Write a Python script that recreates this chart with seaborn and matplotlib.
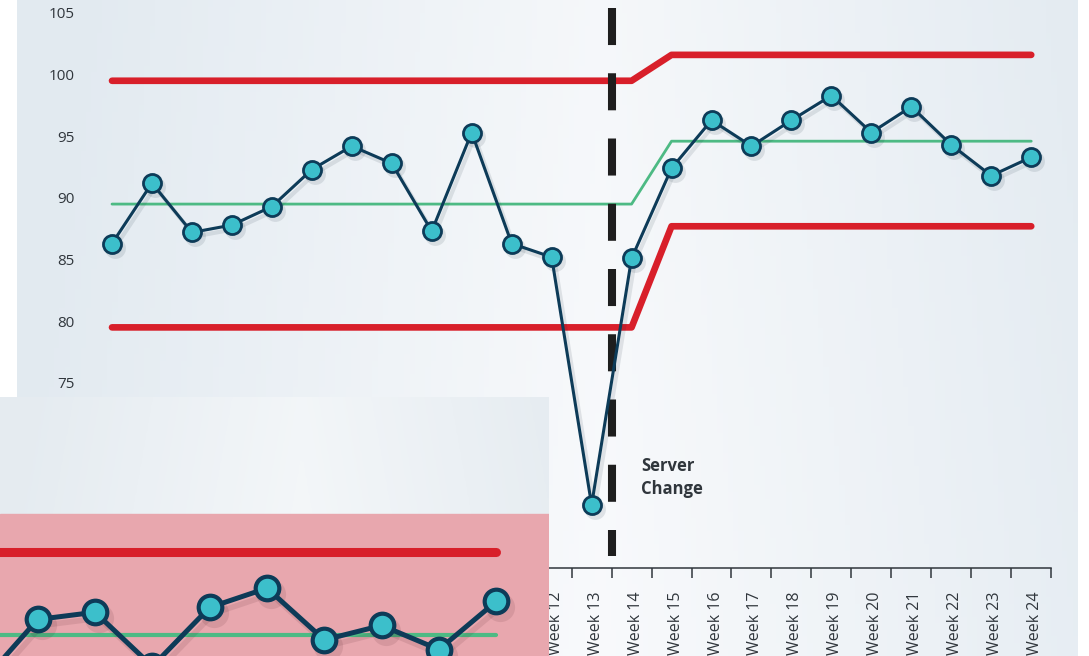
import numpy as np
import seaborn as sns
import matplotlib.pyplot as plt
from matplotlib.transforms import ScaledTranslation

# weekly values
weeks = list(range(1, 25))
week_labels = ["Week %d" % w for w in weeks]
values = [86.3, 91.2, 87.2, 87.8, 89.3, 92.3, 94.2, 92.8, 87.3, 95.3, 86.3, 85.2,
          65.1, 85.1, 92.4, 96.3, 94.2, 96.3, 98.3, 95.3, 97.4, 94.3, 91.8, 93.3]
ucl = [99.5] * 14 + [101.6] * 10
center = [89.5] * 14 + [94.6] * 10
lcl = [79.5] * 14 + [87.7] * 10
change_at = 13.5
yticks = [60, 65, 70, 75, 80, 85, 90, 95, 100, 105]

# zoomed-in detail panel (bottom left)
inset_pos = [-1, 0, 1, 2, 3, 4, 5, 6, 7, 8]
inset_values = [90.5, 95.9, 96.5, 92.0, 96.9, 98.5, 94.2, 95.4, 93.4, 97.4]
inset_ucl = 101.5
inset_center = 94.6
inset_band_top = 104.7

RED = "#d81f2a"
GREEN = "#4dba84"
NAVY = "#0d3b58"
TEAL = "#3cbfcb"
TXT = "#30363c"

sns.set_theme(style="white")
plt.rcParams["font.family"] = ["Open Sans", "DejaVu Sans"]

fig = plt.figure(figsize=(10.89, 6.56), dpi=100)
fig.patch.set_facecolor("white")


def gradient(ax, c_edge, c_mid):
    x = np.linspace(0, 1, 200)
    y = np.linspace(0, 1, 100)
    X, Y = np.meshgrid(x, y)
    t = np.clip(np.abs(X - 0.55) * 1.8 + (1 - Y) * 0.15, 0, 1)[..., None]
    img = np.array(c_mid)[None, None, :] * (1 - t) + np.array(c_edge)[None, None, :] * t
    ax.imshow(img, extent=(*ax.get_xlim(), *ax.get_ylim()), aspect="auto",
              zorder=0, origin="upper")


def shadow(ax, px, py):
    return ax.transData + ScaledTranslation(px / 100, -py / 100, fig.dpi_scale_trans)


# ---- main chart ----
ax = fig.add_axes([17 / 1089, 0, 1061 / 1089, 1])
ax.set_xlim(-1.377, 25.17)
ax.set_ylim(52.85, 106.05)
gradient(ax, (0.89, 0.92, 0.945), (0.975, 0.98, 0.988))

sns.lineplot(x=weeks, y=ucl, ax=ax, color=RED, lw=4.8, solid_capstyle="round", zorder=3)
sns.lineplot(x=weeks, y=lcl, ax=ax, color=RED, lw=4.8, solid_capstyle="round", zorder=3)
sns.lineplot(x=weeks, y=center, ax=ax, color=GREEN, lw=2, zorder=3)
ax.plot([change_at, change_at], [105.4, 61.0], color="#1e1e1e", lw=5.8,
        dashes=(4.6, 3.5), solid_capstyle="butt", zorder=4)
# soft drop shadow under the series
ax.plot(weeks, values, color="#0b2030", alpha=0.10, lw=3, marker="o", ms=15,
        mec="none", transform=shadow(ax, 3, 4), zorder=5)
sns.lineplot(x=weeks, y=values, ax=ax, color=NAVY, lw=2.2, marker="o",
             markersize=13, markerfacecolor=TEAL, markeredgecolor=NAVY,
             markeredgewidth=2, zorder=6)

ax.text(14.24, 67.3, "Server\nChange", fontsize=12, fontweight="bold",
        color=TXT, va="center", ha="left", linespacing=1.35)

for s in ["top", "right", "left"]:
    ax.spines[s].set_visible(False)
ax.spines["left"].set_position(("data", 0.2))
ax.spines["bottom"].set_position(("data", 60))
ax.spines["bottom"].set_bounds(0.5, 24.5)
ax.spines["bottom"].set_color(TXT)
ax.spines["bottom"].set_linewidth(1.1)

ax.set_yticks(yticks)
ax.set_yticklabels([str(t) for t in yticks])
ax.tick_params(axis="y", length=0, pad=4, labelsize=11, labelcolor=TXT)

ax.set_xticks([w + 0.5 for w in [0] + weeks])
ax.set_xticklabels([])
ax.set_xticks(weeks, minor=True)
ax.set_xticklabels(week_labels, minor=True, rotation=90)
ax.tick_params(axis="x", which="major", direction="out", length=7, width=1.1,
               color=TXT, bottom=True)
ax.tick_params(axis="x", which="minor", length=0, pad=17, labelsize=11.5,
               labelcolor=TXT, bottom=True)
for lbl in ax.get_xticklabels(minor=True):
    lbl.set_transform(lbl.get_transform() + ScaledTranslation(4 / 100, 0, fig.dpi_scale_trans))
ax.grid(False)
ax.set_xlabel("")
ax.set_ylabel("")

# ---- zoomed detail panel ----
ins = fig.add_axes([0, 0, 549 / 1089, 259 / 656])
ins.set_xlim(-0.658, 8.92)
ins.set_ylim(92.86, 114.4)
gradient(ins, (0.90, 0.925, 0.945), (0.96, 0.97, 0.978))
ins.axhspan(80, inset_band_top, color="#e8a7ae", zorder=1)

sns.lineplot(x=[-1, 8], y=[inset_ucl, inset_ucl], ax=ins, color=RED, lw=6.5,
             solid_capstyle="round", zorder=3)
sns.lineplot(x=[-1, 8], y=[inset_center, inset_center], ax=ins, color=GREEN,
             lw=3, zorder=3)
ins.plot(inset_pos, inset_values, color="#3a1018", alpha=0.10, lw=4, marker="o",
         ms=21, mec="none", transform=shadow(ins, 4, 6), zorder=5)
sns.lineplot(x=inset_pos, y=inset_values, ax=ins, color=NAVY, lw=3.6, marker="o",
             markersize=17, markerfacecolor=TEAL, markeredgecolor=NAVY,
             markeredgewidth=3, zorder=6)
ins.set_axis_off()

fig.savefig("out.png", dpi=100)
